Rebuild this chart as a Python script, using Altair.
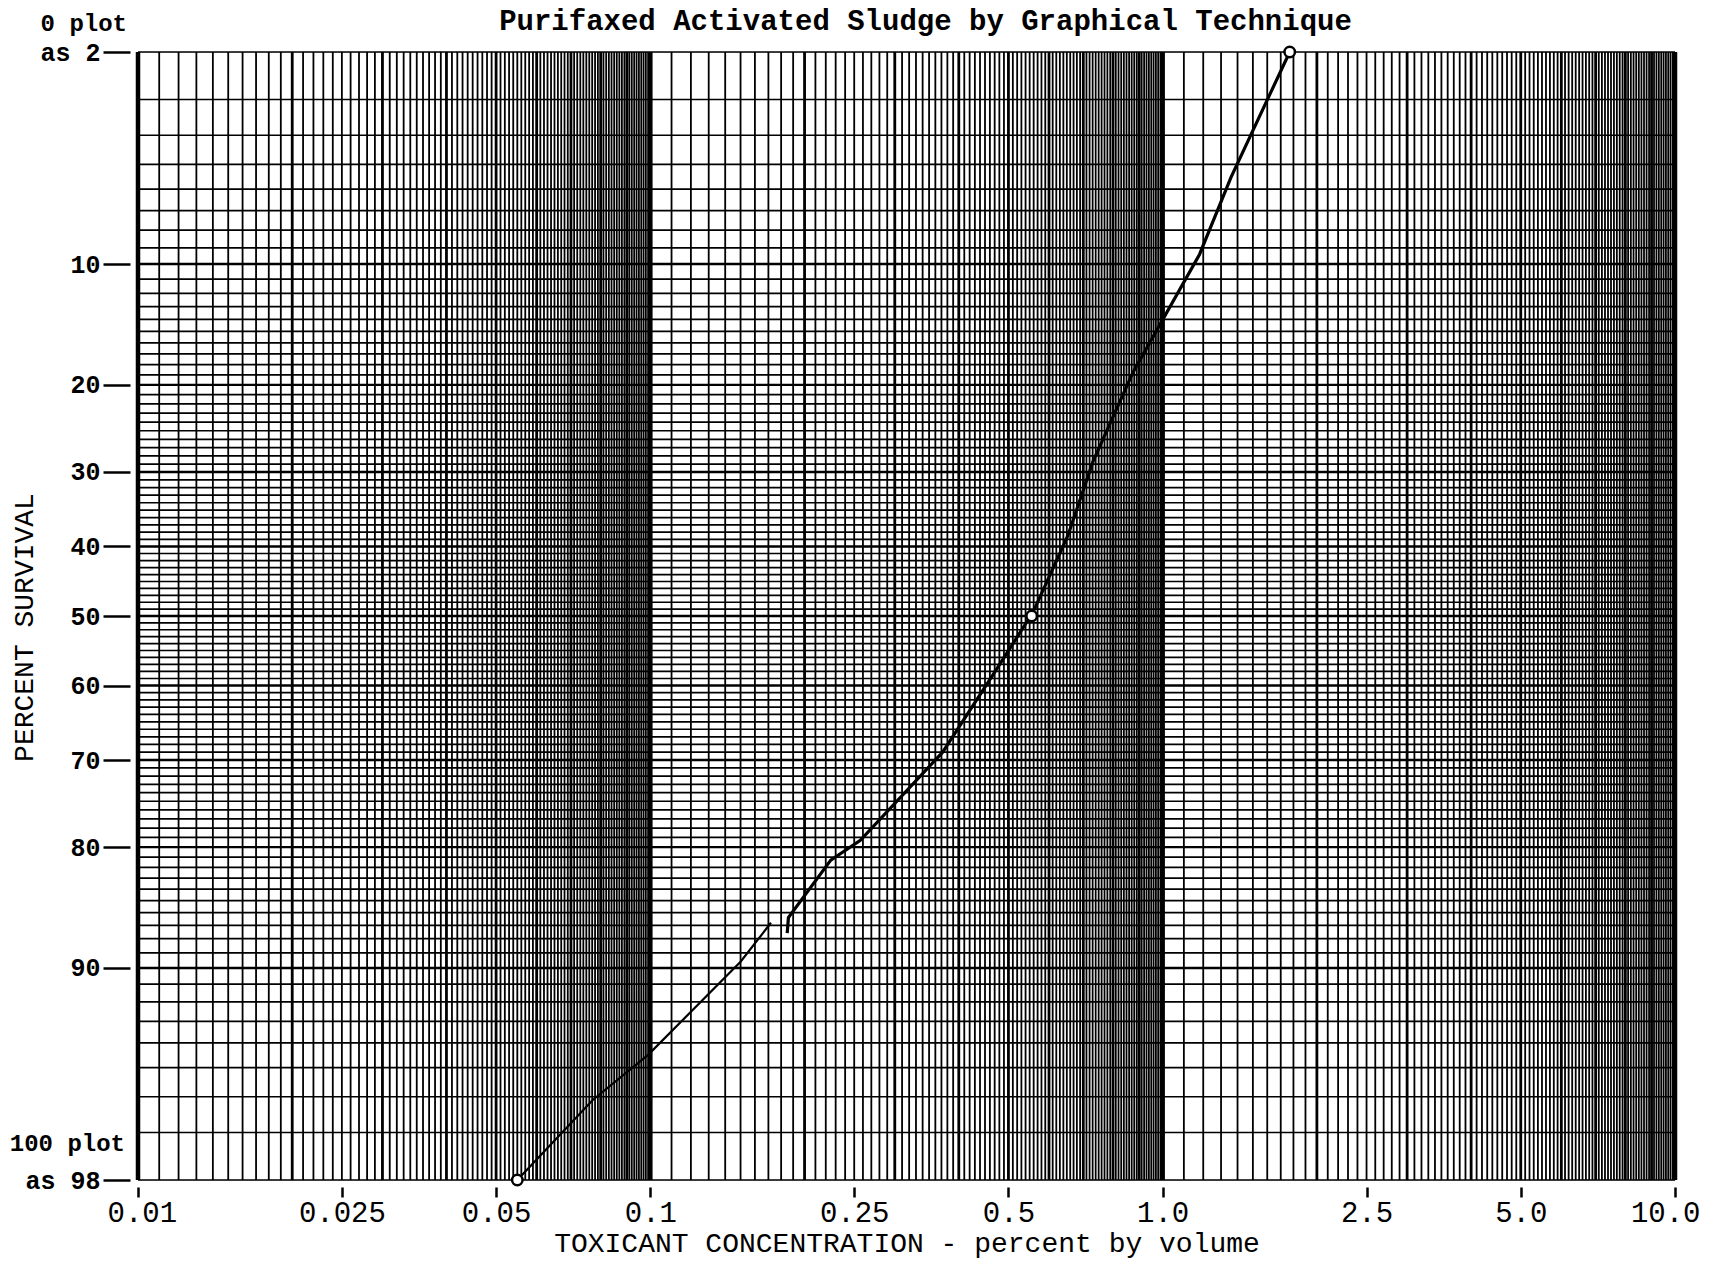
import altair as alt
import pandas as pd
from statistics import NormalDist

nd = NormalDist()

# ---- curve: (toxicant concentration %, percent survival)
upper_conc = [1.77, 1.36, 1.18, 0.876, 0.731, 0.653, 0.558, 0.468, 0.372, 0.257, 0.225, 0.186, 0.185]
upper_pct = [2.0, 5.5, 9.4, 18.7, 28.7, 38.5, 49.5, 58.3, 69.0, 79.3, 81.3, 86.4, 87.6]
lower_conc = [0.172, 0.150, 0.099, 0.0772, 0.055]
lower_pct = [86.8, 89.6, 94.5, 96.1, 98.0]
pt_conc = [1.77, 0.555, 0.055]
pt_pct = [2.0, 50.0, 98.0]

# ---- texts
title_text = ["Purifaxed Activated Sludge by Graphical Technique"]
x_tick_vals = [0.01, 0.025, 0.05, 0.1, 0.25, 0.5, 1.0, 2.5, 5.0, 10.0]
x_tick_labels = ["0.01", "0.025", "0.05", "0.1", "0.25", "0.5", "1.0", "2.5", "5.0", "10.0"]
y_tick_pct = [2, 10, 20, 30, 40, 50, 60, 70, 80, 90, 98]
y_tick_labels = ["as 2", "10", "20", "30", "40", "50", "60", "70", "80", "90", "as  98"]
top_note_pct, top_note_text = [2], ["0 plot"]
bot_note_pct, bot_note_text = [98], ["100 plot"]

# ---- graph-paper rulings
x_grid_decades = [0.01, 0.1, 1.0]
x_grid_steps = list(range(10, 101))      # tenths of each decade
y_grid_pct = list(range(2, 99))           # every 1 percent

FONT = "Liberation Mono"
W, H = 1537, 1128

vrows = {}
for d in x_grid_decades:
    for k in x_grid_steps:
        v = round(d * k / 10, 6)
        if k in (10, 100):
            w = 4.5
        elif k % 10 == 0:
            w = 2.8
        else:
            w = 1.8
        vrows[v] = max(w, vrows.get(v, 0))
vgrid_df = pd.DataFrame({"conc": list(vrows.keys()), "w": list(vrows.values())})
hgrid_df = pd.DataFrame({"pct": y_grid_pct,
                         "w": [2.4 if p % 10 == 0 else 1.7 for p in y_grid_pct]})

upper_df = pd.DataFrame({"conc": upper_conc, "pct": upper_pct, "i": range(len(upper_conc))})
lower_df = pd.DataFrame({"conc": lower_conc, "pct": lower_pct, "i": range(len(lower_conc))})
pts_df = pd.DataFrame({"conc": pt_conc, "pct": pt_pct})
top_note_df = pd.DataFrame({"pct": top_note_pct, "txt": top_note_text})
bot_note_df = pd.DataFrame({"pct": bot_note_pct, "txt": bot_note_text})
title_df = pd.DataFrame({"txt": title_text})

x_expr = "".join(f"datum.value == {v} ? '{l}' : " for v, l in zip(x_tick_vals, x_tick_labels)) + "''"
y_expr = "".join(f"round(cumulativeNormal(datum.value) * 100) == {p} ? '{l}' : "
                 for p, l in zip(y_tick_pct, y_tick_labels)) + "''"

zlo, zhi = nd.inv_cdf(0.02), nd.inv_cdf(0.98)

x_axis = alt.Axis(values=x_tick_vals, labelExpr=x_expr, grid=False, domain=False,
                  ticks=True, tickSize=10, tickWidth=2.5, tickColor="black", offset=7,
                  labelFont=FONT, labelFontSize=29, labelColor="black", labelPadding=1,
                  labelFlush=True, labelFlushOffset=25, labelOverlap=False,
                  labelOffset={"condition": {"test": "datum.value == 0.01", "value": -6},
                               "value": 0},
                  titleFont=FONT, titleFontSize=28, titleFontWeight="normal",
                  titleColor="black", titlePadding=2)
y_axis = alt.Axis(values=[nd.inv_cdf(p / 100) for p in y_tick_pct], labelExpr=y_expr,
                  grid=False, domain=False, ticks=True, tickSize=27, tickWidth=2.5,
                  tickColor="black", offset=8, labelFont=FONT, labelFontSize=25,
                  labelFontWeight="bold", labelColor="black", labelPadding=3,
                  labelOverlap=False, labelBaseline="middle",
                  titleFont=FONT, titleFontSize=28, titleFontWeight="normal",
                  titleColor="black", titleX=-106, titleY=575, titleBaseline="middle",
                  titleAngle=-90)

X = alt.X("conc:Q", scale=alt.Scale(type="log", domain=[0.01, 10], nice=False),
          axis=x_axis, title="TOXICANT CONCENTRATION - percent by volume")
Y = alt.Y("z:Q", scale=alt.Scale(domain=[zlo, zhi], reverse=True, nice=False, zero=False),
          axis=y_axis, title="PERCENT SURVIVAL")
ZCALC = "quantileNormal(datum.pct / 100)"

vgrid = alt.Chart(vgrid_df).mark_rule(color="black").encode(
    x=X, strokeWidth=alt.StrokeWidth("w:Q", scale=None))
hgrid = alt.Chart(hgrid_df).transform_calculate(z=ZCALC).mark_rule(color="black").encode(
    y=Y, strokeWidth=alt.StrokeWidth("w:Q", scale=None))
upper = alt.Chart(upper_df).transform_calculate(z=ZCALC).mark_line(
    color="black", strokeWidth=3.2).encode(x=X, y=Y, order="i:Q")
lower = alt.Chart(lower_df).transform_calculate(z=ZCALC).mark_line(
    color="black", strokeWidth=2.2).encode(x=X, y=Y, order="i:Q")
pts = alt.Chart(pts_df).transform_calculate(z=ZCALC).mark_point(
    shape="circle", filled=True, fill="white", stroke="black", strokeWidth=2.5,
    size=110, opacity=1).encode(x=X, y=Y)
top_note = alt.Chart(top_note_df).transform_calculate(z=ZCALC).mark_text(
    align="right", baseline="middle", dy=-28, font=FONT, fontSize=24,
    fontWeight="bold", color="black").encode(x=alt.value(-11), y=Y, text="txt:N")
bot_note = alt.Chart(bot_note_df).transform_calculate(z=ZCALC).mark_text(
    align="right", baseline="middle", dy=-36, font=FONT, fontSize=24,
    fontWeight="bold", color="black").encode(x=alt.value(-13), y=Y, text="txt:N")
title = alt.Chart(title_df).mark_text(
    align="center", baseline="middle", font=FONT, fontSize=29, fontWeight="bold",
    color="black").encode(x=alt.value(W / 2 + 19), y=alt.value(-31), text="txt:N")

chart = alt.layer(vgrid, hgrid, upper, lower, pts, top_note, bot_note, title).properties(
    width=W, height=H,
    autosize=alt.AutoSizeParams(type="none"),
    padding={"left": 130, "top": 44, "right": 26, "bottom": 82},
).configure_view(stroke="black", strokeWidth=2.5).configure(background="white")

chart.save("out.html", embed_options={"renderer": "svg", "actions": False})
